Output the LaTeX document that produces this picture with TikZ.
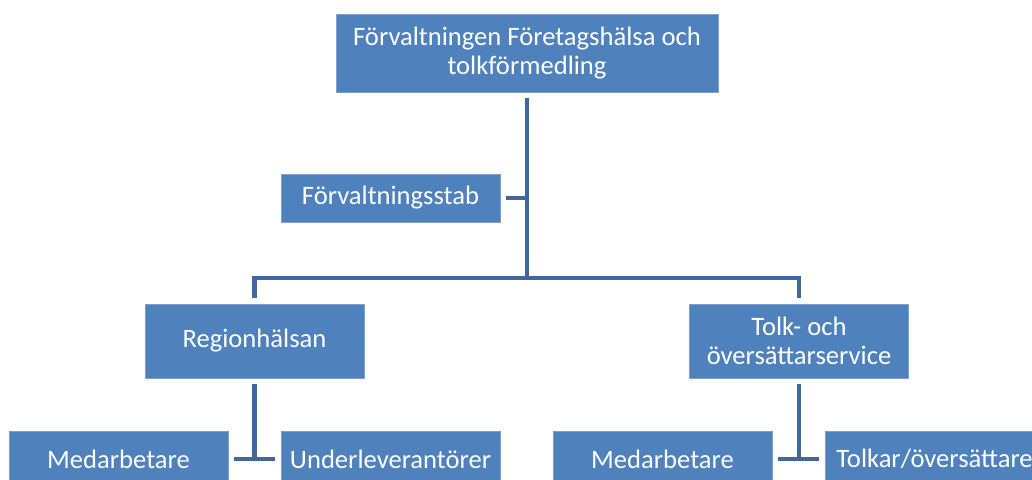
\documentclass[tikz,border=0pt]{standalone}
\usepackage{fontspec}
\setmainfont{Carlito}
\definecolor{bx}{RGB}{79,129,189}
\definecolor{bxr}{RGB}{125,160,208}
\definecolor{ln}{RGB}{64,104,158}
\usepackage{tikz}
\tikzstyle{unit}=[rectangle, fill=bx, draw=bxr, line width=.6pt, text=white,
  minimum width=219pt, outer sep=6pt, align=center, inner sep=0pt,
  font=\fontsize{26.6}{29}\selectfont]
\tikzstyle{link}=[draw=ln, line width=4.5pt]

\begin{document}
\begin{tikzpicture}[x=1pt, y=-1pt]

      \useasboundingbox (0,0) rectangle (1032,479);
      \clip (0,0) rectangle (1032,479);

      \node[unit, minimum width=382pt, minimum height=78pt] (forv) at (527,53)
        {Förvaltningen Företagshälsa och\\tolkförmedling};
      \node[unit, minimum height=48pt] (stab) at (390.5,198) {Förvaltningsstab};

      \node[unit, minimum height=74pt] (reg) at (254.5,341) {Regionhälsan};
      \node[unit, minimum height=74pt] (tolk) at (799,341) {Tolk- och\\översättarservice};

      \node[unit, minimum height=56pt] (med1) at (118.5,459) {Medarbetare};
      \node[unit, minimum height=56pt] (und) at (390.5,459) {Underleverantörer};
      \node[unit, minimum height=56pt] (med2) at (662.5,459) {Medarbetare};
      \node[unit, minimum height=56pt] (tolkar) at (934.5,459) {Tolkar/översättare};

      \coordinate (hub) at (527,278);

      % top
      \draw[link] (forv.south) -- (hub);
      \draw[link] (stab.east) -- (stab.east -| forv.south);
      \draw[link, line join=miter] (reg.north) |- (hub) -| (tolk.north);

      % Regionhälsan
      \draw[link] (reg.south) -- (reg.south |- med1.east);
      \draw[link] (med1.east) -- (und.west);

      % Tolk- och översättarservice
      \draw[link] (tolk.south) -- (tolk.south |- med2.east);
      \draw[link] (med2.east) -- (tolkar.west);

\end{tikzpicture}
\end{document}
